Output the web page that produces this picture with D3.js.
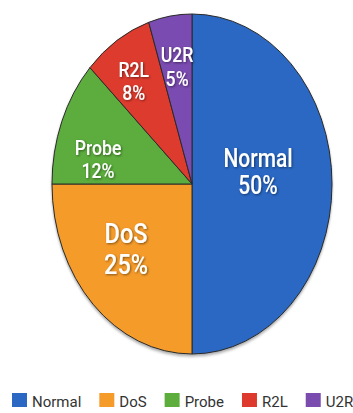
<!DOCTYPE html>
<html>
<head>
<meta charset="utf-8">
<script src="https://cdn.jsdelivr.net/npm/d3@7"></script>
<style>
  body { margin: 0; background: #fff; }
  svg { display: block; }
</style>
</head>
<body>
<div id="chart"></div>
<script>
// data
var categories = ["Normal", "DoS", "Probe", "R2L", "U2R"];
var values = [50, 25, 12, 8, 5];
var colours = ["#2a68c4", "#f59b2a", "#5cad3c", "#dd3a2d", "#7a4cb0"];

const width = 353, height = 413;
const cx = 192, cy = 184, rx = 140, ry = 170;

// label placement: where in the slice (0..1 of its sweep), radius fraction, font size
const labelAt = [0.467, 0.548, 0.25, 0.4, 0.5];
const labelR = [0.474, 0.621, 0.683, 0.72, 0.68];
const labelSize = [25, 28, 21, 21, 21];

const svg = d3.select("#chart")
  .append("svg")
    .attr("width", width)
    .attr("height", height);

const defs = svg.append("defs");
const sh = defs.append("filter").attr("id", "tshadow")
  .attr("x", "-20%").attr("y", "-20%").attr("width", "140%").attr("height", "140%");
sh.append("feDropShadow")
  .attr("dx", 1).attr("dy", 1).attr("stdDeviation", 0.8)
  .attr("flood-color", "#000").attr("flood-opacity", 0.45);

const pieShadow = defs.append("filter").attr("id", "pshadow")
  .attr("x", "-10%").attr("y", "-10%").attr("width", "120%").attr("height", "125%");
pieShadow.append("feDropShadow")
  .attr("dx", 0).attr("dy", 2).attr("stdDeviation", 1.5)
  .attr("flood-color", "#000").attr("flood-opacity", 0.35);

const data = categories.map((c, i) => ({name: c, value: values[i], colour: colours[i]}));

const pie = d3.pie().sort(null).value(d => d.value);
const arcs = pie(data);

const arc = d3.arc().innerRadius(0).outerRadius(ry);

// pie drawn as a circle and squashed sideways into an ellipse
const g = svg.append("g")
  .attr("transform", `translate(${cx},${cy}) scale(${rx / ry},1)`)
  .attr("filter", "url(#pshadow)");

g.selectAll("path")
  .data(arcs)
  .join("path")
    .attr("d", arc)
    .attr("fill", d => d.data.colour)
    .attr("stroke", "#2a2a2a")
    .attr("stroke-width", 1)
    .attr("vector-effect", "non-scaling-stroke");

// labels
const labels = svg.append("g")
  .attr("font-family", "Roboto, 'Noto Sans', sans-serif")
  .attr("font-weight", 500)
  .attr("fill", "#fff")
  .attr("text-anchor", "middle")
  .attr("filter", "url(#tshadow)");

arcs.forEach((d, i) => {
  const a = d.startAngle + (d.endAngle - d.startAngle) * labelAt[i];
  const x = cx + Math.sin(a) * rx * labelR[i];
  const y = cy - Math.cos(a) * ry * labelR[i];
  const fs = labelSize[i];
  const t = labels.append("g")
    .attr("transform", `translate(${x},${y}) scale(0.84,1)`)
    .attr("font-size", fs);
  t.append("text").attr("y", -fs * 0.35).text(d.data.name);
  t.append("text").attr("y", fs * 0.75).text(d.data.value + "%");
});

// legend
const legend = svg.append("g")
  .attr("font-family", "Roboto, 'Noto Sans', sans-serif")
  .attr("font-size", 15)
  .attr("fill", "#333");

let lx = 12;
data.forEach(d => {
  legend.append("rect")
    .attr("x", lx).attr("y", 393)
    .attr("width", 15).attr("height", 14)
    .attr("fill", d.colour);
  const txt = legend.append("text")
    .attr("x", lx + 20).attr("y", 407)
    .text(d.name);
  lx += 20 + txt.node().getComputedTextLength() + 18;
});
</script>
</body>
</html>
